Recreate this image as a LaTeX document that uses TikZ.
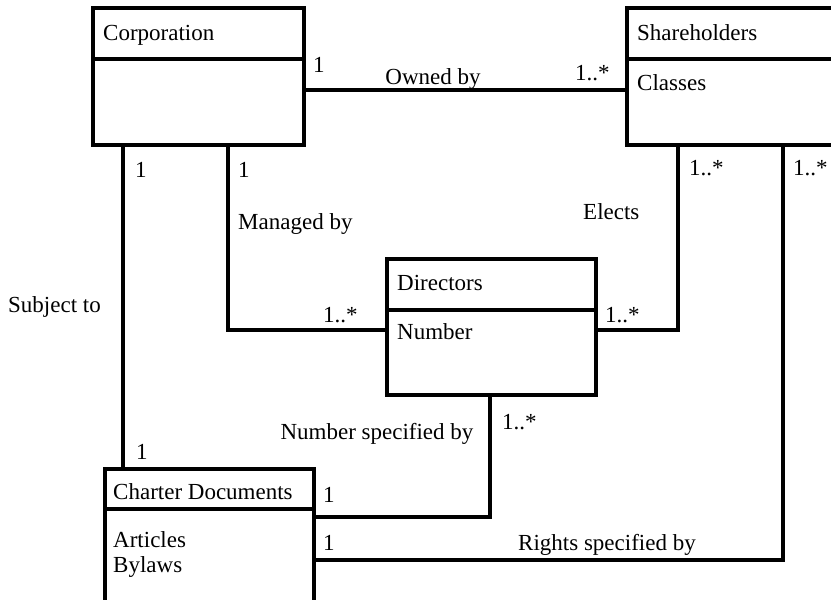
\documentclass[tikz,border=0pt]{standalone}
\usepackage{fontspec}
\setmainfont{Liberation Serif}
\begin{document}
\begin{tikzpicture}[x=1pt,y=-1pt,
  box/.style={draw, line width=3.5pt, anchor=north west, inner sep=0pt},
  conn/.style={line width=3.5pt},
  lbl/.style={anchor=base west, inner sep=0pt, font=\fontsize{23}{27}\selectfont},
  lblc/.style={anchor=base, inner sep=0pt, font=\fontsize{23}{27}\selectfont}]
\useasboundingbox (0,0) rectangle (831,600);
\clip (0,0) rectangle (831,600);
% boxes
\node[box, minimum width=211pt, minimum height=137pt] (corp) at (91,6) {};
\node[box, minimum width=300pt, minimum height=137pt] (share) at (625,6) {};
\node[box, minimum width=209pt, minimum height=136pt] (dir) at (385,257) {};
\node[box, minimum width=209pt, minimum height=200pt] (chart) at (103,467) {};
% dividers
\draw[conn] (corp.west |- 0,59) -- (corp.east |- 0,59);
\draw[conn] (share.west |- 0,59) -- (share.east |- 0,59);
\draw[conn] (dir.west |- 0,310) -- (dir.east |- 0,310);
\draw[conn] (chart.west |- 0,509) -- (chart.east |- 0,509);
% box texts
\node[lbl] (tcorp) at (103,40) {Corporation};
\node[lbl] (tshare) at (637,40) {Shareholders};
\node[lbl] (tclass) at (637,90) {Classes};
\node[lbl] (tdir) at (397,290) {Directors};
\node[lbl] (tnum) at (397,339) {Number};
\node[lbl] (tchart) at (113,499) {Charter Documents};
\node[lbl] (tart) at (113,547) {Articles};
\node[lbl] (tby) at (113,572) {Bylaws};
% connectors
\coordinate (own) at (0,90);
\draw[conn] (corp.east |- own) -- (share.west |- own);
\draw[conn] (corp.south -| 123,0) -- (chart.north -| 123,0);
\coordinate (m1) at (228,330);
\draw[conn] (corp.south -| m1) -- (m1) -- (dir.west |- m1);
\coordinate (e1) at (678,330);
\draw[conn] (share.south -| e1) -- (e1) -- (dir.east |- e1);
\coordinate (n1) at (490,517);
\draw[conn] (dir.south -| n1) -- (n1) -- (chart.east |- n1);
\coordinate (r1) at (783,560);
\draw[conn] (share.south -| r1) -- (r1) -- (chart.east |- r1);
% labels
\node[lbl] (l1) at (313,72) {1};
\node[lblc] (l2) at (433,84) {Owned by};
\node[lbl] (l3) at (575,80) {1..*};
\node[lbl] (l4) at (135,177) {1};
\node[lbl] (l5) at (238,177) {1};
\node[lbl] (l6) at (238,229) {Managed by};
\node[lbl] (l7) at (689,175) {1..*};
\node[lbl] (l8) at (793,175) {1..*};
\node[lbl] (l9) at (583,219) {Elects};
\node[lbl] (l10) at (8,312) {Subject to};
\node[lbl] (l11) at (323,322) {1..*};
\node[lbl] (l12) at (605,322) {1..*};
\node[lblc] (l13) at (377,439) {Number specified by};
\node[lbl] (l14) at (502,429) {1..*};
\node[lbl] (l15) at (136,459) {1};
\node[lbl] (l16) at (323,502) {1};
\node[lbl] (l17) at (323,550) {1};
\node[lbl] (l18) at (518,550) {Rights specified by};
\end{tikzpicture}
\end{document}
